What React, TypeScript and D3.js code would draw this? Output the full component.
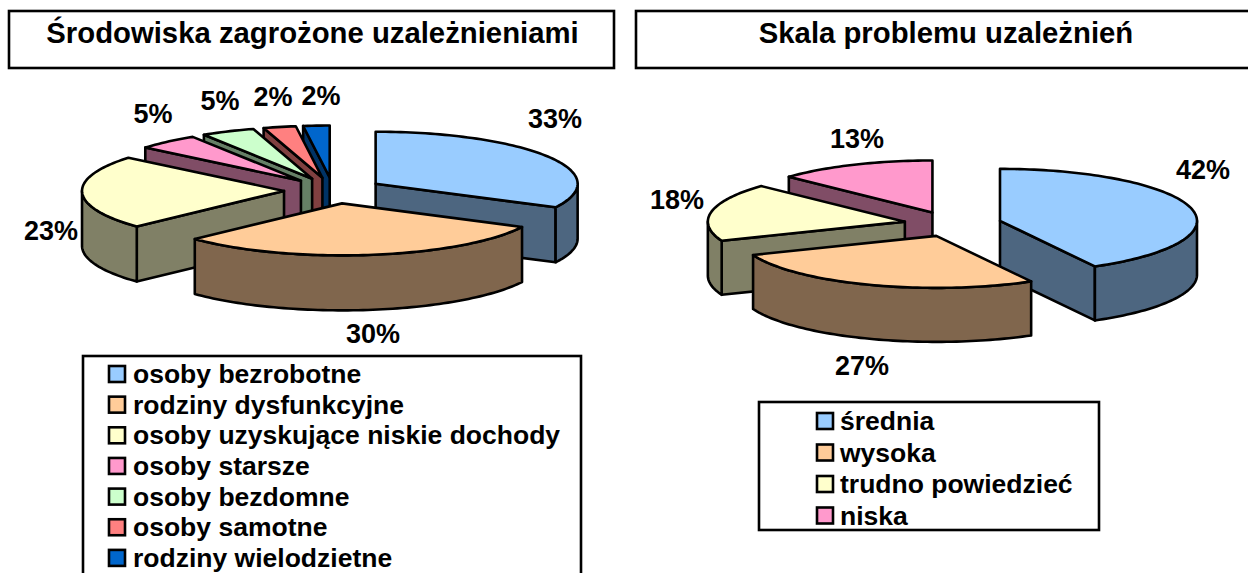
import React from "react";
import * as d3 from "d3";

const leftCategories = ["osoby bezrobotne", "rodziny dysfunkcyjne", "osoby uzyskujące niskie dochody", "osoby starsze", "osoby bezdomne", "osoby samotne", "rodziny wielodzietne"];
const leftValues = [32.5, 30.5, 23, 5, 4.3, 2.6, 2.1];
const leftLabels = ["33%", "30%", "23%", "5%", "5%", "2%", "2%"];
const leftColors = ["#99CCFF", "#FFCC99", "#FFFFCC", "#FF99CC", "#CCFFCC", "#FF8080", "#0066CC"];
const leftWalls = ["#4D6680", "#80664D", "#808066", "#804D66", "#668066", "#804040", "#003366"];

const rightCategories = ["średnia", "wysoka", "trudno powiedzieć", "niska"];
const rightValues = [42, 27, 18, 13];
const rightLabels = ["42%", "27%", "18%", "13%"];
const rightColors = ["#99CCFF", "#FFCC99", "#FFFFCC", "#FF99CC"];
const rightWalls = ["#4D6680", "#80664D", "#808066", "#804D66"];

const FONT = "'Liberation Sans', Arial, sans-serif";
const SW = 2.6;

type PieCfg = { cx: number; cy: number; rx: number; ry: number; depth: number; ex: number; ey: number; nudge: number[] };
const leftCfg: PieCfg = { cx: 333, cy: 190.5, rx: 202, ry: 52, depth: 55, ex: 50, ey: 13, nudge: [0, 2, 1, 1, 0, 0, 0] };
const rightCfg: PieCfg = { cx: 953, cy: 224, rx: 197, ry: 52, depth: 54, ex: 48, ey: 12.6, nudge: [0.5, -0.5, -1, -1.5] };
const leftLabelPos: [number, number][] = [[555, 128], [373, 343], [51, 240], [153, 123], [220, 110], [273, 106], [321, 105]];
const rightLabelPos: [number, number][] = [[1203, 179], [862, 375], [677, 209], [857, 148]];

const line = d3.line<[number, number]>();

function Pie3D({ values, colors, walls, cfg }: { values: number[]; colors: string[]; walls: string[]; cfg: PieCfg }) {
  const arcs = d3.pie<number>().sort(null).startAngle(0).endAngle(2 * Math.PI)(values);
  const order = arcs
    .map((a, i) => ({ a, i, mid: (a.startAngle + a.endAngle) / 2 }))
    .sort((p, q) => -Math.cos(p.mid) - -Math.cos(q.mid));
  return (
    <g stroke="#000" strokeWidth={SW} strokeLinejoin="round">
      {order.map(({ a, i, mid }) => {
        const ax = cfg.cx + cfg.ex * Math.sin(mid) + cfg.nudge[i];
        const ay = cfg.cy - cfg.ey * Math.cos(mid);
        const pt = (t: number, dz = 0): [number, number] => [ax + cfg.rx * Math.sin(t), ay - cfg.ry * Math.cos(t) + dz];
        const sample = (t0: number, t1: number, dz = 0) => {
          const n = Math.max(2, Math.ceil(Math.abs(t1 - t0) * 40));
          return d3.range(n + 1).map((k) => pt(t0 + ((t1 - t0) * k) / n, dz));
        };
        const d = cfg.depth;
        const rim = sample(a.startAngle, a.endAngle);
        const apex: [number, number] = [ax, ay];
        const apexB: [number, number] = [ax, ay + d];
        const faces: string[] = [];
        const s = a.startAngle, e = a.endAngle;
        if (-Math.cos(s - Math.PI / 2) > 1e-6) faces.push(line([apex, pt(s), pt(s, d), apexB])! + "Z");
        if (-Math.cos(e + Math.PI / 2) > 1e-6) faces.push(line([apex, pt(e), pt(e, d), apexB])! + "Z");
        const w0 = Math.max(s, Math.PI / 2), w1 = Math.min(e, (3 * Math.PI) / 2);
        if (w1 > w0) faces.push(line([...sample(w0, w1), ...sample(w1, w0, d)])! + "Z");
        return (
          <g key={i}>
            {faces.map((f, k) => <path key={k} d={f} fill={walls[i]} />)}
            <path d={line([apex, ...rim])! + "Z"} fill={colors[i]} />
          </g>
        );
      })}
    </g>
  );
}

function Labels({ labels, pos }: { labels: string[]; pos: [number, number][] }) {
  return (
    <g fontFamily={FONT} fontWeight="bold" fontSize={27} textAnchor="middle" fill="#000">
      {labels.map((l, i) => <text key={i} x={pos[i][0]} y={pos[i][1]}>{l}</text>)}
    </g>
  );
}

function Legend({ cats, colors, sx, tx, y0, step }: { cats: string[]; colors: string[]; sx: number; tx: number; y0: number; step: number }) {
  return (
    <g fontFamily={FONT} fontWeight="bold" fontSize={26.5} fill="#000">
      {cats.map((c, i) => (
        <g key={i}>
          <rect x={sx} y={y0 + i * step - 8} width={16} height={16} fill={colors[i]} stroke="#000" strokeWidth={SW} />
          <text x={tx} y={y0 + i * step + 9}>{c}</text>
        </g>
      ))}
    </g>
  );
}

export default function App() {
  return (
    <svg width={1248} height={573} style={{ position: "absolute", left: 0, top: 0, background: "#fff" }}>
      <rect x={9} y={11} width={605} height={57} fill="#fff" stroke="#000" strokeWidth={SW} />
      <rect x={636} y={11} width={640} height={57} fill="#fff" stroke="#000" strokeWidth={SW} />
      <text x={312.5} y={42.5} textAnchor="middle" fontFamily={FONT} fontWeight="bold" fontSize={29.3}>Środowiska zagrożone uzależnieniami</text>
      <text x={946} y={42.5} textAnchor="middle" fontFamily={FONT} fontWeight="bold" fontSize={29.3}>Skala problemu uzależnień</text>

      <Pie3D values={leftValues} colors={leftColors} walls={leftWalls} cfg={leftCfg} />
      <Labels labels={leftLabels} pos={leftLabelPos} />
      <Pie3D values={rightValues} colors={rightColors} walls={rightWalls} cfg={rightCfg} />
      <Labels labels={rightLabels} pos={rightLabelPos} />

      <rect x={83} y={356} width={498} height={230} fill="#fff" stroke="#000" strokeWidth={SW} />
      <Legend cats={leftCategories} colors={leftColors} sx={109} tx={133} y0={374} step={30.65} />
      <rect x={759} y={402} width={340} height={128} fill="#fff" stroke="#000" strokeWidth={SW} />
      <Legend cats={rightCategories} colors={rightColors} sx={817} tx={840} y0={421} step={31.5} />
    </svg>
  );
}
